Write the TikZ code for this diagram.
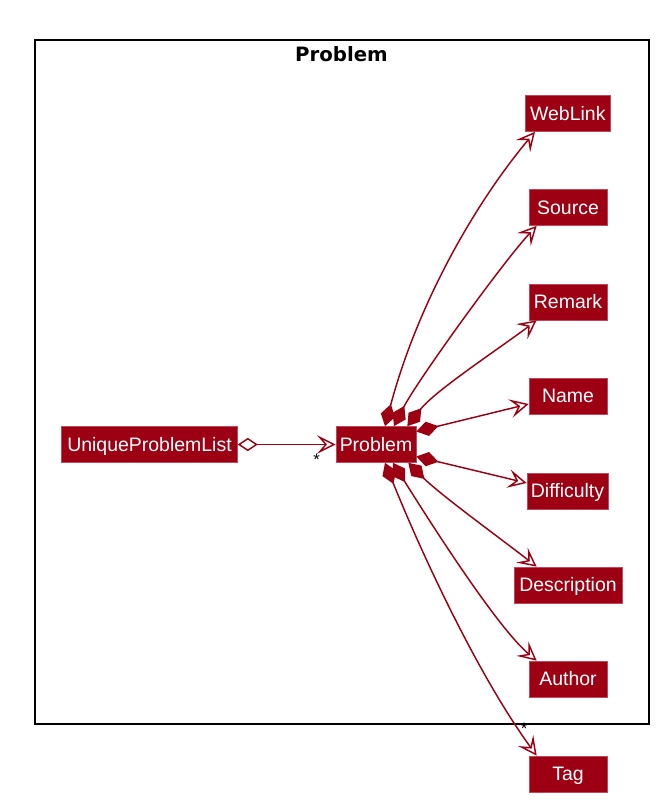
\documentclass[tikz,border=0pt]{standalone}
\usepackage{fontspec}
\setmainfont{Liberation Sans}
\newfontfamily\titlefont{DejaVu Sans}
\usetikzlibrary{arrows.meta,calc}
\definecolor{modelred}{HTML}{9D0012}
\definecolor{clsborder}{HTML}{C0485A}
\tikzset{
  cls/.style={rectangle, fill=modelred, draw=clsborder, line width=0.5pt, text=white,
    minimum height=27pt, inner sep=0pt, text height=10.45pt, text depth=0pt,
    font=\fontsize{14.6pt}{17pt}\selectfont},
  link/.style={draw=modelred, line width=1.1pt},
  comp/.style={link, arrows={{Diamond[length=17pt,width=11pt]}-{Stealth[open,length=14pt,width=14pt,inset=6pt]}}},
  agg/.style={link, arrows={{Diamond[open,fill=white,length=15pt,width=10pt]}-{Stealth[open,length=14pt,width=14pt,inset=6pt]}}},
  mult/.style={anchor=base, inner sep=0pt, text=black, font=\fontsize{12.5pt}{14pt}\selectfont},
  pkgtitle/.style={anchor=base, inner sep=0pt, font=\titlefont\bfseries\fontsize{14.8pt}{17pt}\selectfont},
}
\begin{document}
\begin{tikzpicture}[x=0.75pt,y=-0.75pt]
\fill[white] (0,0) rectangle (664,809);
\useasboundingbox (0,0) rectangle (664,809);
\draw[line width=1.5pt] (35,40) rectangle (649,724);
\node[pkgtitle] (pkg) at (341.5,62) {Problem};

\node[cls, minimum width=132pt] (upl) at (149.5,444.5) {UniqueProblemList};
\node[cls, minimum width=60pt] (prob) at (376,444.5) {Problem};
\node[cls, minimum width=63.75pt] (weblink) at (567.8,113.5) {WebLink};
\node[cls, minimum width=58.5pt] (source) at (568,207.5) {Source};
\node[cls, minimum width=58.5pt] (remark) at (568,302) {Remark};
\node[cls, minimum width=58.5pt] (name) at (568,396) {Name};
\node[cls, minimum width=60.75pt] (difficulty) at (567.5,491) {Difficulty};
\node[cls, minimum width=81pt] (description) at (568,585) {Description};
\node[cls, minimum width=58.5pt] (author) at (568,679) {Author};
\node[cls, minimum width=58.5pt] (tag) at (568,774) {Tag};

\draw[agg] (upl.east) -- (prob.west);

\draw[comp] ($(prob.north)+(9,0)$) .. controls +(33.6,-125.6) and +(-57.9,68.9) .. ($(weblink.south west)+(10,0)$);
\draw[comp] ($(prob.north)+(18,0)$) .. controls +(22.7,-44.5) and +(-34.1,36.6) .. ($(source.south west)+(8,0)$);
\draw[comp] ($(prob.north east)+(-9,0)$) .. controls +(27.7,-35.5) and +(-35.9,27.1) .. ($(remark.south west)+(8,0)$);
\draw[comp] ($(prob.east)+(0,-13)$) -- ($(name.west)+(0,8)$);
\draw[comp] ($(prob.east)+(0,12)$) -- ($(difficulty.west)+(0,-8)$);
\draw[comp] ($(prob.south east)+(-8,0)$) .. controls +(31.8,31.8) and +(-35.5,-27.7) .. ($(description.north west)+(23,0)$);
\draw[comp] ($(prob.south)+(17,0)$) .. controls +(42.4,67.8) and +(-38.3,-32.1) .. ($(author.north west)+(8,0)$);
\draw[comp] ($(prob.south)+(9,0)$) .. controls +(37.5,92.7) and +(-58.8,-80.9) .. ($(tag.north west)+(8,0)$);

\node[mult] (m1) at (316.5,465) {*};
\node[mult] (m2) at (524,734) {*};
\end{tikzpicture}
\end{document}
